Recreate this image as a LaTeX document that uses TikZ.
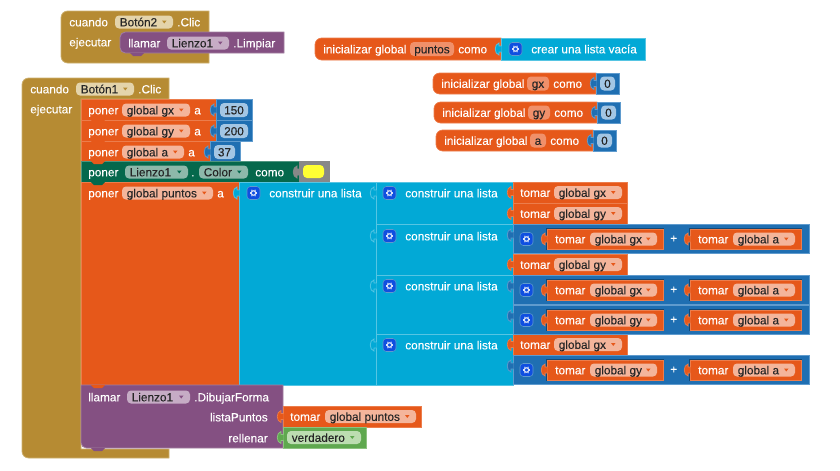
\documentclass[tikz,border=0pt]{standalone}
\usepackage{fontspec}
\setmainfont{Liberation Sans}[FakeBold=0.15]

\definecolor{blockgold}{HTML}{B68B33}
\definecolor{edgegold}{HTML}{CDB06F}
\definecolor{fieldgold}{HTML}{E4D4AB}
\definecolor{blockpurple}{HTML}{845082}
\definecolor{edgepurple}{HTML}{A27FA1}
\definecolor{fieldpurple}{HTML}{C6ACC5}
\definecolor{blockorange}{HTML}{E6581A}
\definecolor{edgeorange}{HTML}{EC7D4C}
\definecolor{fieldorange}{HTML}{F4B59B}
\definecolor{nameorange}{HTML}{F0906A}
\definecolor{blockblue}{HTML}{1F6FB2}
\definecolor{edgeblue}{HTML}{5F9BCE}
\definecolor{fieldblue}{HTML}{A3C6E4}
\definecolor{blockcyan}{HTML}{02A9D6}
\definecolor{edgecyan}{HTML}{56C5E3}
\definecolor{blockgreen}{HTML}{05684C}
\definecolor{edgegreen}{HTML}{4F9580}
\definecolor{fieldgreen}{HTML}{8DB8AA}
\definecolor{blocklime}{HTML}{5FA84F}
\definecolor{edgelime}{HTML}{8DC280}
\definecolor{fieldlime}{HTML}{BCDDB1}
\definecolor{blockgrey}{HTML}{888888}
\definecolor{iconblue}{HTML}{0F4FE0}
\definecolor{swatch}{HTML}{FFFF33}

\tikzset{
  lbl/.style={text=white,font=\fontsize{8.85}{10}\selectfont,inner sep=0pt,
    text height=8.4pt,text depth=1.9pt},
  dark/.style={lbl,text=black!85},
  orangeblock/.style={fill=blockorange,draw=edgeorange,line width=.5pt},
  blueblock/.style={fill=blockblue,draw=edgeblue,line width=.6pt},
  cyanblock/.style={fill=blockcyan,draw=edgecyan,line width=.6pt},
  purpleblock/.style={fill=blockpurple,draw=edgepurple,line width=.6pt},
  greenblock/.style={fill=blockgreen,draw=edgegreen,line width=.6pt},
  limeblock/.style={fill=blocklime,draw=edgelime,line width=.6pt},
  greyblock/.style={fill=blockgrey,draw=blockgrey,line width=.6pt},
  goldblock/.style={fill=blockgold,draw=edgegold,line width=.6pt},
}

\newcounter{txt}
% text label at x, y centre
\newcommand{\lab}[3]{\stepcounter{txt}\node[lbl,anchor=west] (t\thetxt) at (#1,#2) {#3};}
\newcommand{\labr}[3]{\stepcounter{txt}\node[lbl,anchor=east] (t\thetxt) at (#1,#2) {#3};}
% block rectangle
\newcommand{\blk}[5]{\draw[#1] (#2,#3) rectangle (#4,#5);}
% dropdown field: x0 x1 yc colour text
\newcommand{\field}[5]{
  \fill[field#4,rounded corners=3] (#1,#3-6.5) rectangle (#2,#3+6.5);
  \stepcounter{txt}\node[dark,anchor=west] (t\thetxt) at (#1+4.5,#3) {#5};
  \fill[block#4] (#2-11,#3-1.5) -- (#2-6.5,#3-1.5) -- (#2-8.75,#3+1.5) -- cycle;
}
% plain field
\newcommand{\plain}[5]{
  \fill[#4,rounded corners=3] (#1,#3-7) rectangle (#2,#3+7);
  \stepcounter{txt}\node[dark] (t\thetxt) at ({(#1+#2)/2},#3) {#5};
}
% socket tab: x yc colour
\newcommand{\tab}[3]{
  \draw[#3] (#1+.5,#2-3) -- (#1-2,#2-3) -- (#1-2,#2-6) .. controls (#1-7,#2-5) and (#1-7,#2+5) .. (#1-2,#2+6)
    -- (#1-2,#2+3) -- (#1+.5,#2+3);
}
% statement notch under a block: x y colour
\newcommand{\notch}[3]{
  \fill[#3] (#1+10,#2) -- (#1+13,#2+3) -- (#1+21,#2+3) -- (#1+24,#2) -- cycle;
}
% mutator gear
\newcommand{\gear}[2]{
  \fill[iconblue,rounded corners=2.5,draw=edgeblue,line width=.4pt] (#1,#2-6.5) rectangle (#1+13,#2+6.5);
  \draw[white!85!iconblue,line width=.8pt] (#1+6.5,#2) circle (2.2);
  \foreach \ang in {0,60,...,300}
    \draw[white!85!iconblue,line width=.8pt] (#1+6.5,#2) ++(\ang:2.6) -- ++(\ang:1.1);
}
% variable getter
\newcommand{\getter}[6]{
  \draw[orangeblock] (#1,#2) rectangle (#3,#2+21);
  \lab{#1+7}{#2+10.5}{tomar}
  \field{#4}{#5}{#2+10.5}{orange}{#6}
  \tab{#1}{#2+10.5}{orangeblock}
}
% gx + a row
\newcommand{\sumrow}[2]{
  \draw[blueblock] (513,#1) rectangle (809,#1+29.5);
  \tab{513}{#1+11}{blueblock}
  \gear{520}{#1+15}
  \fill[blockblue!65!black] (546,#1+4) rectangle (664,#1+26);
  \fill[blockblue!65!black] (689,#1+4) rectangle (802,#1+26);
  \draw[orangeblock] (547,#1+5) rectangle (663,#1+25);
  \lab{555}{#1+15}{tomar}
  \field{590}{657}{#1+15}{orange}{global #2}
  \tab{547}{#1+15}{orangeblock}
  \lab{670}{#1+14}{+}
  \draw[orangeblock] (690,#1+5) rectangle (801,#1+25);
  \lab{698}{#1+15}{tomar}
  \field{733}{795}{#1+15}{orange}{global a}
  \tab{690}{#1+15}{orangeblock}
}
% global init: x0 x1 x2 ytop name fieldx0 fieldx1 comox value
\newcommand{\initvar}[8]{
  \draw[orangeblock] (#2,#3) [rounded corners=5] -- (#1,#3) -- (#1,#3+21) [sharp corners] -- (#2,#3+21) -- cycle;
  \lab{#1+8}{#3+10.5}{inicializar global}
  \plain{#5}{#6}{#3+10.5}{nameorange}{#4}
  \lab{#7}{#3+10.5}{como}
  \draw[blueblock] (#2,#3) rectangle (#2+23,#3+21);
  \tab{#2}{#3+10.5}{blueblock}
  \plain{#2+4}{#2+19}{#3+10.5}{fieldblue}{#8}
}

\begin{document}
\begin{tikzpicture}[x=.75pt,y=-.75pt]
  \useasboundingbox (0,0) rectangle (840,471);

  % Boton2 event
  \draw[goldblock] (209,11) [rounded corners=5] -- (61,11) -- (61,63) [sharp corners] -- (209,63) -- cycle;
  \lab{69}{22}{cuando}
  \field{115}{173}{22}{gold}{Botón2}
  \lab{177}{22}{.Clic}
  \lab{69}{42}{ejecutar}
  \draw[purpleblock] (284,32) [rounded corners=4] -- (120,32) -- (120,53) [sharp corners] -- (284,53) -- cycle;
  \notch{120}{53}{blockpurple}
  \lab{128}{43}{llamar}
  \field{167}{229}{43}{purple}{Lienzo1}
  \lab{233}{43}{.Limpiar}

  % global variables
  \draw[orangeblock] (501,38) [rounded corners=5] -- (315,38) -- (315,60) [sharp corners] -- (501,60) -- cycle;
  \lab{323}{49}{inicializar global}
  \plain{410}{454}{49}{nameorange}{puntos}
  \lab{458}{49}{como}
  \blk{cyanblock}{501}{38}{645}{60}
  \tab{501}{49}{cyanblock}
  \gear{509}{49}
  \lab{531}{49}{crear una lista vacía}
  \initvar{433}{596}{73}{gx}{527}{549}{553}{0}
  \initvar{434}{597}{102}{gy}{528}{550}{554}{0}
  \initvar{436}{593}{130}{a}{530}{546}{550}{0}

  % Boton1 event
  \draw[goldblock] (169,78) [rounded corners=5] -- (22,78) -- (22,458) [sharp corners] -- (169,458)
    -- (169,449) -- (81,449) -- (81,99) -- (169,99) -- cycle;
  \lab{30}{89}{cuando}
  \field{76}{134}{89}{gold}{Botón1}
  \lab{138}{89}{.Clic}
  \lab{30}{109}{ejecutar}

  \blk{orangeblock}{81}{99}{216}{120}
  \lab{88}{110}{poner}
  \field{122}{190}{110}{orange}{global gx}
  \lab{194}{110}{a}
  \blk{blueblock}{216}{99}{252}{120}
  \tab{216}{110}{blueblock}
  \plain{220}{248}{110}{fieldblue}{150}

  \blk{orangeblock}{81}{120}{216}{141}
  \lab{88}{131}{poner}
  \field{122}{190}{131}{orange}{global gy}
  \lab{194}{131}{a}
  \blk{blueblock}{216}{120}{252}{141}
  \tab{216}{131}{blueblock}
  \plain{220}{248}{131}{fieldblue}{200}

  \blk{orangeblock}{81}{141}{210}{161}
  \lab{88}{152}{poner}
  \field{122}{184}{152}{orange}{global a}
  \lab{188}{152}{a}
  \blk{blueblock}{210}{141}{240}{161}
  \tab{210}{152}{blueblock}
  \plain{214}{235}{152}{fieldblue}{37}

  \blk{greenblock}{81}{161}{299}{182}
  \lab{88}{172}{poner}
  \field{125}{188}{172}{green}{Lienzo1}
  \lab{191}{172}{.}
  \field{199}{248}{172}{green}{Color}
  \lab{255}{172}{como}
  \blk{greyblock}{299}{161}{329}{182}
  \tab{299}{172}{greyblock}
  \fill[swatch,rounded corners=3] (303,165) rectangle (324,178);

  \blk{orangeblock}{81}{182}{239}{385}
  \lab{88}{193}{poner}
  \field{122}{213}{193}{orange}{global puntos}
  \lab{217}{193}{a}

  % lists
  \blk{cyanblock}{239}{182}{513}{385}
  \tab{239}{193}{cyanblock}
  \gear{247}{193}
  \lab{269}{193}{construir una lista}
  \draw[cyanblock] (376,182) rectangle (513,224);
  \draw[cyanblock] (376,224) rectangle (513,275);
  \draw[cyanblock] (376,275) rectangle (513,334);
  \draw[cyanblock] (376,334) rectangle (513,385);
  \foreach \ytop/\ytext in {182/193,224/236,275/286,334/345} {
    \tab{376}{\ytext}{cyanblock}
    \gear{383}{\ytext}
    \lab{405}{\ytext}{construir una lista}
  }
  \foreach \ytop/\vname in {182/gx,203/gy,254/gy,334/gx} {
    \getter{513}{\ytop}{627}{554}{622}{global \vname}
  }
  \foreach \ytop/\vname in {224/gx,275/gx,305/gy,355/gy} {
    \sumrow{\ytop}{\vname}
  }

  % draw call
  \draw[purpleblock] (283,385) -- (81,385) [rounded corners=4] -- (81,448) [sharp corners] -- (283,448) -- cycle;
  \lab{88}{397}{llamar}
  \field{127}{190}{397}{purple}{Lienzo1}
  \lab{194}{397}{.DibujarForma}
  \labr{268}{417}{listaPuntos}
  \labr{268}{438}{rellenar}
  \getter{283}{406}{421}{325}{416}{global puntos}
  \draw[limeblock] (283,427) rectangle (366,448);
  \tab{283}{437.5}{limeblock}
  \field{287}{361}{437.5}{lime}{verdadero}

  % notches
  \foreach \ynotch/\cname in {120/blockorange,141/blockorange,161/blockorange,182/blockgreen,385/blockorange,448/blockpurple} {
    \notch{81}{\ynotch}{\cname}
  }
\end{tikzpicture}
\end{document}
